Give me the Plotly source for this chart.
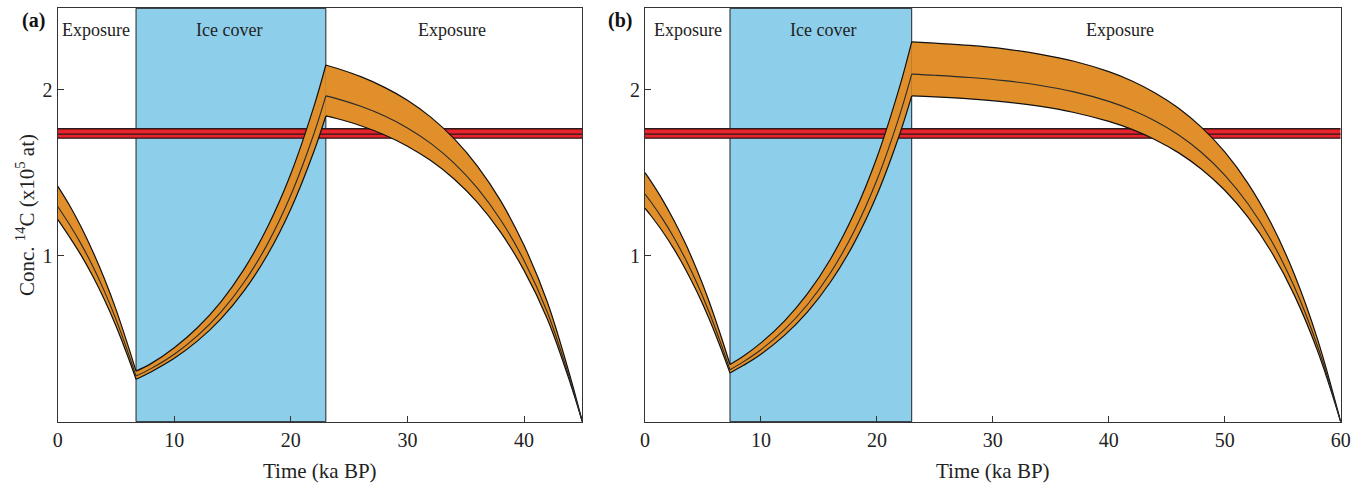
import plotly.graph_objects as go

# ---------------- data ----------------
# Panel (a)
A_XMAX = 45.0
A_ICE = [6.72, 23.0]
A_T = [45.0, 44, 42, 40, 38, 36, 34, 32, 30, 28, 26, 24, 23.0,
       22, 20, 18, 16, 14, 12, 10, 8, 6.72,
       6, 5, 4, 3, 2, 1, 0]
A_UP = [0, 0.263, 0.722, 1.063, 1.331, 1.541, 1.706, 1.836, 1.938, 2.017, 2.080, 2.129, 2.150,
        1.905, 1.495, 1.174, 0.921, 0.723, 0.568, 0.446, 0.350, 0.305,
        0.466, 0.677, 0.863, 1.028, 1.175, 1.306, 1.420]
A_MID = [0, 0.241, 0.660, 0.972, 1.216, 1.408, 1.559, 1.678, 1.771, 1.844, 1.901, 1.946, 1.964,
         1.740, 1.366, 1.072, 0.842, 0.661, 0.519, 0.407, 0.320, 0.275,
         0.424, 0.617, 0.787, 0.938, 1.072, 1.190, 1.297]
A_LO = [0, 0.226, 0.619, 0.912, 1.141, 1.322, 1.463, 1.574, 1.661, 1.730, 1.784, 1.826, 1.843,
        1.633, 1.282, 1.006, 0.790, 0.620, 0.487, 0.382, 0.300, 0.256,
        0.396, 0.577, 0.736, 0.878, 1.004, 1.115, 1.220]

# Panel (b)
B_XMAX = 60.0
B_ICE = [7.33, 23.0]
B_T = [60, 58, 56, 54, 52, 50, 48, 46, 44, 42, 40, 37, 34, 31, 28, 25, 23.0,
       22, 20, 18, 16, 14, 12, 10, 8.5, 7.33,
       6.5, 5.5, 4.5, 3.5, 2.5, 1.5, 0.5, 0]
B_UP = [0, 0.498, 0.889, 1.196, 1.437, 1.626, 1.774, 1.891, 1.982, 2.054, 2.110, 2.173, 2.216,
        2.247, 2.268, 2.282, 2.290,
        2.029, 1.593, 1.250, 0.981, 0.770, 0.605, 0.475, 0.396, 0.345,
        0.527, 0.731, 0.911, 1.072, 1.213, 1.339, 1.450, 1.501]
B_MID = [0, 0.456, 0.813, 1.094, 1.314, 1.487, 1.623, 1.730, 1.813, 1.879, 1.931, 1.988, 2.028,
         2.056, 2.075, 2.088, 2.095,
         1.856, 1.457, 1.144, 0.898, 0.705, 0.553, 0.434, 0.362, 0.313,
         0.480, 0.666, 0.832, 0.979, 1.109, 1.224, 1.326, 1.372]
B_LO = [0, 0.427, 0.763, 1.026, 1.233, 1.395, 1.522, 1.622, 1.700, 1.762, 1.810, 1.864, 1.902,
        1.928, 1.946, 1.958, 1.964,
        1.740, 1.366, 1.072, 0.842, 0.661, 0.519, 0.407, 0.340, 0.294,
        0.450, 0.625, 0.780, 0.918, 1.040, 1.148, 1.243, 1.287]

# Measured (red) concentration band
RED_LO, RED_MID, RED_HI = 1.709, 1.734, 1.766

Y_MAX = 2.492
X_TICKS_A = [0, 10, 20, 30, 40]
X_TICKS_B = [0, 10, 20, 30, 40, 50, 60]
Y_TICKS = [1, 2]

# region labels: (text, x position in ka)
A_LABELS = [("Exposure", 3.3), ("Ice cover", 14.7), ("Exposure", 33.8)]
B_LABELS = [("Exposure", 3.7), ("Ice cover", 15.35), ("Exposure", 41.0)]

# ---------------- style ----------------
FONT = "Liberation Serif"
ORANGE = "#E08F2A"
ICE = "#8DCFEB"
RED = "#E8232B"
DARK = "#2a1a1a"
AXC = "#333333"

fig = go.Figure()


def line_trace(x, y, xa, ya, color, width, fill=None, fillcolor=None, shape="linear"):
    return go.Scatter(x=x, y=y, xaxis=xa, yaxis=ya, mode="lines",
                      line=dict(color=color, width=width, shape=shape, smoothing=1.0),
                      fill=fill, fillcolor=fillcolor, hoverinfo="skip", showlegend=False)


def add_panel(xa, ya, t, up, mid, lo, ice, xmax):
    # red measured band
    fig.add_trace(line_trace([0, xmax], [RED_LO, RED_LO], xa, ya, DARK, 1.3))
    fig.add_trace(line_trace([0, xmax], [RED_HI, RED_HI], xa, ya, DARK, 1.3,
                             fill="tonexty", fillcolor=RED))
    fig.add_trace(line_trace([0, xmax], [RED_MID, RED_MID], xa, ya, DARK, 1.3))
    # modelled orange band, one piece per phase
    phases = [(ice[1], xmax), (ice[0], ice[1]), (0, ice[0])]
    for a, b in phases:
        idx = [i for i, v in enumerate(t) if a - 1e-9 <= v <= b + 1e-9]
        tx = [t[i] for i in idx]
        fig.add_trace(line_trace(tx, [lo[i] for i in idx], xa, ya, "#111111", 1.2, shape="spline"))
        fig.add_trace(line_trace(tx, [up[i] for i in idx], xa, ya, "#111111", 1.2,
                                 fill="tonexty", fillcolor=ORANGE, shape="spline"))
    for a, b in phases:
        idx = [i for i, v in enumerate(t) if a - 1e-9 <= v <= b + 1e-9]
        tx = [t[i] for i in idx]
        fig.add_trace(line_trace(tx, [mid[i] for i in idx], xa, ya, "#2b2b2b", 1.1, shape="spline"))


add_panel("x", "y", A_T, A_UP, A_MID, A_LO, A_ICE, A_XMAX)
add_panel("x2", "y2", B_T, B_UP, B_MID, B_LO, B_ICE, B_XMAX)

# ice-cover rectangles
for xr, yr, ice in [("x", "y domain", A_ICE), ("x2", "y2 domain", B_ICE)]:
    fig.add_shape(type="rect", xref=xr, yref=yr, x0=ice[0], x1=ice[1], y0=0, y1=1,
                  fillcolor=ICE, line=dict(color="#222222", width=1), layer="below")

ax_common = dict(showgrid=False, zeroline=False, showline=True, linecolor=AXC, linewidth=1.2,
                 mirror=True, ticks="inside", ticklen=6, tickwidth=1, tickcolor=AXC,
                 tickfont=dict(family=FONT, size=20, color="#222222"), automargin=False)

L0, L1 = 57.7 / 1367, 582.3 / 1367
R0, R1 = 645.0 / 1367, 1340.7 / 1367
B0, T1 = 1 - 421.7 / 489, 1 - 8.3 / 489

fig.update_layout(
    width=1367, height=489,
    margin=dict(l=0, r=0, t=0, b=0),
    paper_bgcolor="white", plot_bgcolor="white",
    xaxis=dict(ax_common, domain=[L0, L1], range=[0, A_XMAX], tickvals=X_TICKS_A, anchor="y"),
    yaxis=dict(ax_common, domain=[B0, T1], range=[0, Y_MAX], tickvals=Y_TICKS, anchor="x"),
    xaxis2=dict(ax_common, domain=[R0, R1], range=[0, B_XMAX], tickvals=X_TICKS_B, anchor="y2"),
    yaxis2=dict(ax_common, domain=[B0, T1], range=[0, Y_MAX], tickvals=Y_TICKS, anchor="x2"),
)

ann = []
for xr, labels in [("x", A_LABELS), ("x2", B_LABELS)]:
    for txt, xv in labels:
        ann.append(dict(text=txt, x=xv, xref=xr, y=1 - 30 / 489, yref="paper",
                        showarrow=False, xanchor="center", yanchor="middle",
                        font=dict(family=FONT, size=18, color="#222222")))
ann.append(dict(text="<b>(a)</b>", x=33 / 1367, y=1 - 21 / 489, xref="paper", yref="paper",
                showarrow=False, xanchor="center", yanchor="middle",
                font=dict(family=FONT, size=20, color="#111111")))
ann.append(dict(text="<b>(b)</b>", x=620 / 1367, y=1 - 21 / 489, xref="paper", yref="paper",
                showarrow=False, xanchor="center", yanchor="middle",
                font=dict(family=FONT, size=20, color="#111111")))
for cx in [(L0 + L1) / 2, (R0 + R1) / 2]:
    ann.append(dict(text="Time (ka BP)", x=cx, y=1 - 471 / 489, xref="paper", yref="paper",
                    showarrow=False, xanchor="center", yanchor="middle",
                    font=dict(family=FONT, size=21, color="#222222")))
ann.append(dict(text="Conc. <sup>14</sup>C (x10<sup>5</sup> at)", x=25 / 1367, y=(B0 + T1) / 2,
                xref="paper", yref="paper", showarrow=False, textangle=-90,
                xanchor="center", yanchor="middle",
                font=dict(family=FONT, size=21, color="#222222")))
fig.update_layout(annotations=ann)

fig.write_html("out.html")
